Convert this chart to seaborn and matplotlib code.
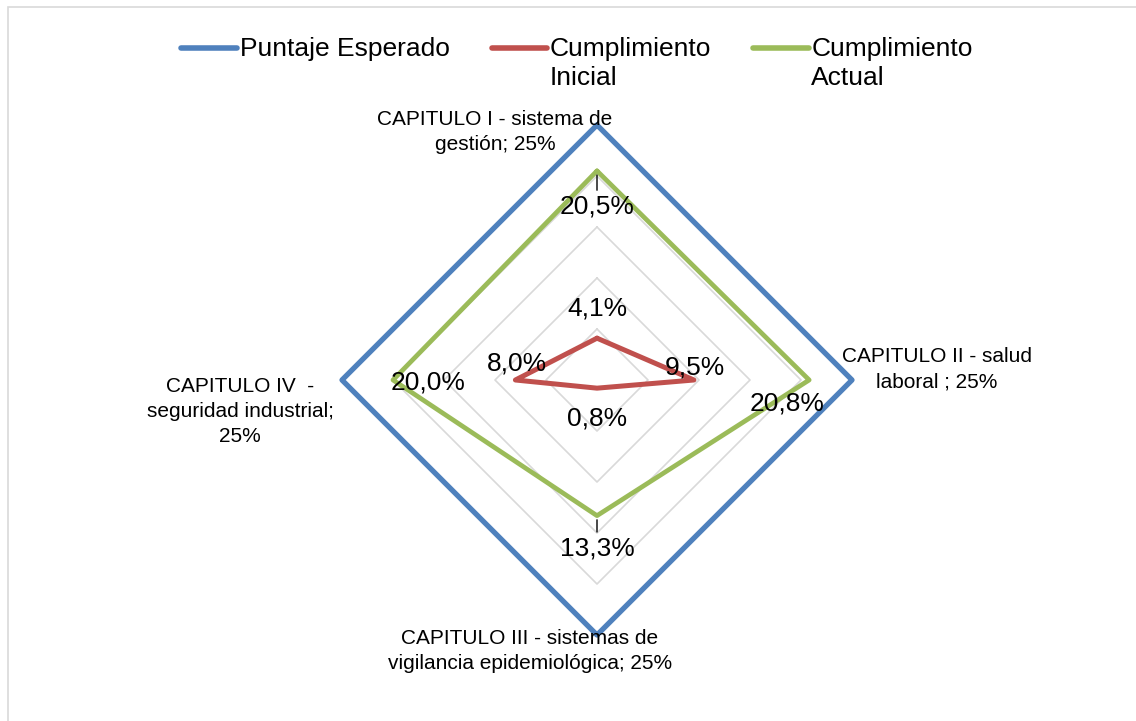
import matplotlib
matplotlib.use("Agg")
import matplotlib.pyplot as plt
from matplotlib.lines import Line2D
from matplotlib.patches import Rectangle
import seaborn as sns
import numpy as np
import pandas as pd

# Datos del gráfico radar
capitulos = ['CAPITULO I - sistema de\ngestión; 25%',
             'CAPITULO II - salud\nlaboral ; 25%',
             'CAPITULO III - sistemas de\nvigilancia epidemiológica; 25%',
             'CAPITULO IV  -\nseguridad industrial;\n25%']
series = ['Puntaje Esperado', 'Cumplimiento\nInicial', 'Cumplimiento\nActual']
puntaje_esperado = [25.0, 25.0, 25.0, 25.0]
cumplimiento_inicial = [4.1, 9.5, 0.8, 8.0]
cumplimiento_actual = [20.5, 20.8, 13.3, 20.0]
niveles = [5, 10, 15, 20, 25]

colores = ['#4F81BD', '#C0504D', '#9BBB59']

sns.set_theme(style='white')
plt.rcParams['font.family'] = ['Liberation Sans', 'DejaVu Sans']

# angulos: arriba, derecha, abajo, izquierda (sentido horario)
ang = np.arange(4) * np.pi / 2


def polar_xy(vals):
    v = np.array(list(vals) + [vals[0]])
    a = np.array(list(ang) + [ang[0]])
    return v * np.sin(a), v * np.cos(a)


filas = []
for nombre, vals in zip(series, [puntaje_esperado, cumplimiento_inicial, cumplimiento_actual]):
    x, y = polar_xy(vals)
    for i, (xi, yi) in enumerate(zip(x, y)):
        filas.append({'serie': nombre, 'orden': i, 'x': xi, 'y': yi})
df = pd.DataFrame(filas)

fig = plt.figure(figsize=(11.36, 7.21), dpi=100)
W, H = 1136, 721
cx, cy, R = 597, 380, 255
half = 306
ax = fig.add_axes([(cx - half) / W, (H - cy - half) / H, 2 * half / W, 2 * half / H])
lim = 25 * half / R
ax.set_xlim(-lim, lim)
ax.set_ylim(-lim, lim)
ax.set_aspect('equal')
ax.axis('off')

# rejilla en forma de rombo
for n in niveles:
    gx, gy = polar_xy([n] * 4)
    ax.plot(gx, gy, color='#D9D9D9', lw=1.2, zorder=1)

anchos = [3.8, 3.6, 3.4]
for nombre, col, lw in zip(series, colores, anchos):
    sub = df[df['serie'] == nombre]
    sns.lineplot(data=sub, x='x', y='y', sort=False, estimator=None, color=col,
                 lw=lw, ax=ax, zorder=3, legend=False)

# etiquetas de datos
fs_dat = 19
desp_ini = [(0, 30), (1, 12), (0, -30), (2, 17)]
desp_act = [(0, -36), (-22, -24), (0, -33), (35, -2)]
for vals, desps, lider in [(cumplimiento_inicial, desp_ini, False),
                           (cumplimiento_actual, desp_act, True)]:
    x, y = polar_xy(vals)
    for i in range(4):
        txt = f'{vals[i]:.1f}%'.replace('.', ',')
        ap = None
        if lider and i in (0, 2):
            ap = dict(arrowstyle='-', color='black', lw=1, shrinkA=1, shrinkB=3)
        ax.annotate(txt, xy=(x[i], y[i]), xytext=desps[i], textcoords='offset pixels',
                    ha='center', va='center', fontsize=fs_dat, color='black',
                    zorder=5, arrowprops=ap)

# etiquetas de categorías
desp_cat = [(-102, -7), (85, 11), (-67, -16), (-102, -31)]
x, y = polar_xy(puntaje_esperado)
for i, lab in enumerate(capitulos):
    ax.annotate(lab, xy=(x[i], y[i]), xytext=desp_cat[i], textcoords='offset pixels',
                ha='center', va='center', fontsize=15, color='black',
                linespacing=1.4, zorder=6, multialignment='center')

handles = [Line2D([], [], color=c, lw=4) for c in colores]
leg = fig.legend(handles, series, loc='upper center', bbox_to_anchor=(0.508, 0.982),
                 ncol=3, frameon=False, fontsize=19, handlelength=2.1,
                 handleheight=1.2, handletextpad=0.1, columnspacing=1.6,
                 labelcolor='black')
for t in leg.get_texts():
    t.set_linespacing(1.3)
# alinear cada marcador y cada columna con la primera línea del texto
leg._legend_handle_box.align = 'top'
for col in leg._legend_handle_box.get_children():
    for item in col.get_children():
        item.align = 'top'

fig.patches.append(Rectangle((8 / W, -0.01), 1.02, (H - 7) / H + 0.01,
                             transform=fig.transFigure, fill=False,
                             edgecolor='#D9D9D9', lw=1.2))

fig.savefig('out.png', dpi=100)
